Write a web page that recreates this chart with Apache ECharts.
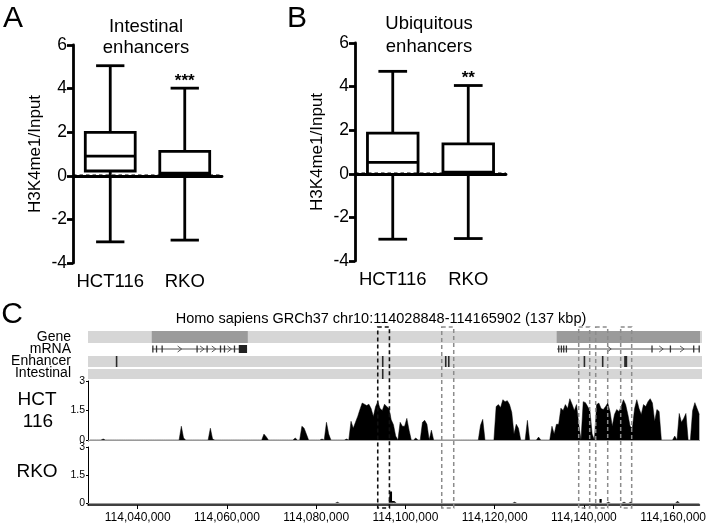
<!DOCTYPE html>
<html><head><meta charset="utf-8">
<script src="https://cdn.jsdelivr.net/npm/echarts@6/dist/echarts.min.js"></script>
<style>html,body{margin:0;padding:0;background:#fff}#c{width:709px;height:524px}</style>
</head><body><div id="c"></div>
<script>
// ---------- Panels A & B : box plots ----------
const boxCategories = ['HCT116', 'RKO'];
// [lower whisker, Q1, median, Q3, upper whisker]
const intestinalBoxes = [[-3.03, 0.22, 0.90, 1.99, 5.05], [-2.95, 0.08, 0.12, 1.12, 4.02]];
const ubiquitousBoxes = [[-3.00, -0.03, 0.52, 1.87, 4.70], [-2.97, 0.04, 0.08, 1.37, 4.05]];
const intestinalSig = ['', '***'];
const ubiquitousSig = ['', '**'];
const boxReferenceLevel = 0;
const boxYAxisName = 'H3K4me1/Input';
const panelTitles = ['Intestinal\nenhancers', 'Ubiquitous\nenhancers'];

// ---------- Panel C : genome browser ----------
const browserTitle = 'Homo sapiens GRCh37 chr10:114028848-114165902 (137 kbp)';
const regionStart = 114028848, regionEnd = 114165902;
const genomeTicks = [114040000, 114060000, 114080000, 114100000, 114120000, 114140000, 114160000];
const trackLabels = ['Gene', 'mRNA', 'Enhancer', 'Intestinal'];
const geneSpans = [[114043130, 114064630], [114133810, 114165902]];
const transcripts = [[114043200, 114064470], [114133900, 114165800]];
const exons = [[114043300, 114043450], [114044130, 114044260], [114045380, 114045520], [114053220, 114053340],
  [114055460, 114055580], [114058460, 114058580], [114059350, 114059480], [114061590, 114061720],
  [114134200, 114134330], [114134800, 114134930], [114135320, 114135450], [114135920, 114136050],
  [114155090, 114155220], [114159210, 114159340], [114164430, 114164560], [114165650, 114165800]];
const codingBlocks = [[114062612, 114064470]];
const enhancers = [[114035100, 114035400], [114094750, 114094950], [114108880, 114109040], [114109560, 114109720],
  [114139920, 114140120], [114144020, 114144200], [114148920, 114149600]];
const intestinalEnhancers = [[114094750, 114094950]];
const highlightRegions = [[114093734, 114096354]];
const otherRegions = [[114108064, 114110751], [114138738, 114141201], [114142544, 114145231], [114148142, 114150605]];
const signalTicks = [0, 1.5, 3];
const BIN_START = 114029000, BIN_SIZE = 500;
const hct116Signal = [
  0,0,0,0,0,0,0.05,0,0,0,
  0,0,0,0,0,0,0,0,0,0,
  0,0,0,0,0,0,0,0,0,0,
  0,0,0,0,0,0,0,0,0,0,
  0,0.7,0.1,0,0,0,0,0,0,0,
  0,0,0,0,0.6,0.05,0,0,0,0,
  0,0,0,0,0,0,0,0,0,0,
  0,0,0,0,0,0,0,0,0.3,0.17,
  0,0,0,0,0,0,0,0,0,0,
  0,0,0.1,0,0,0.7,0.6,0.3,0,0,
  0,0,0,0,0.05,0,0.9,0.3,0,0,
  0,0,0,0,0,0.05,0,0.95,0.6,0.9,
  1.2,1.55,1.88,1.82,1.75,1.82,1.6,1.2,1.7,1.95,
  1.6,1.5,1.82,1.7,1.6,1.03,0.78,0.2,0,0.9,
  0.7,0.7,1.1,0.5,0,0,0.1,0,0,0.9,
  1.0,0.8,0,0.5,0,0,0,0,0,0,
  0,0,0,0,0,0,0,0,0,0,
  0,0,0,0,0,0.75,1.05,0,0,0,
  0,0,1.7,1.8,1.65,2.05,1.95,2.0,1.8,1.4,
  0.3,0.8,0.6,0,0,0,1.0,0,0,0,
  0,0.15,0,0,0,0,0,0.7,0.3,0.8,
  0.8,1.62,1.5,1.8,1.6,2.1,1.82,1.5,1.8,0.8,
  0,1.95,1.9,1.7,1.5,0.3,0,1.8,1.88,1.6,
  1.55,1.7,1.88,1.45,0.7,1.3,1.55,1.45,1.7,2.05,
  1.8,1.3,0.7,0.6,1.6,2.05,1.6,1.3,1.8,1.7,
  1.95,2.1,1.88,0.95,1.55,1.45,0,0,0,0,
  0,0,0.2,0,1.35,0.9,1.1,1.35,0,0,
  1.5,1.9,1.6,1.3
];
// RKO: [bin index, value] for the few non-zero bins
const rkoPeaks = [[111, 0.05], [135, 0.6], [136, 0.1], [190, 0.05], [229, 0.2], [232, 0.05], [239, 0.05], [242, 0.05], [263, 0.1]];

// ---------- build ----------
const FONT = '"Liberation Sans", Arial, Helvetica, sans-serif';
const binPos = i => BIN_START + i * BIN_SIZE + BIN_SIZE / 2;
const hctData = hct116Signal.map((v, i) => [binPos(i), v]);
const rkoVals = hct116Signal.map(() => 0);
rkoPeaks.forEach(([i, v]) => { rkoVals[i] = v; });
const rkoData = rkoVals.map((v, i) => [binPos(i), v]);

function boxRenderer(sigs) {
  return function (params, api) {
    const cat = api.value(0);
    const p = k => api.coord([cat, api.value(k)]);
    const lo = p(1), q1 = p(2), md = p(3), q3 = p(4), hi = p(5);
    const cx = lo[0];
    const band = api.size([1, 0])[0];
    const bw = band * 0.67, cw = band * 0.38;
    const st = { stroke: '#000', lineWidth: 2.8, fill: null };
    return {
      type: 'group',
      children: [
        { type: 'line', shape: { x1: cx, y1: hi[1], x2: cx, y2: q3[1] }, style: st },
        { type: 'line', shape: { x1: cx, y1: q1[1], x2: cx, y2: lo[1] }, style: st },
        { type: 'line', shape: { x1: cx - cw / 2, y1: hi[1], x2: cx + cw / 2, y2: hi[1] }, style: st },
        { type: 'line', shape: { x1: cx - cw / 2, y1: lo[1], x2: cx + cw / 2, y2: lo[1] }, style: st },
        { type: 'rect', shape: { x: cx - bw / 2, y: q3[1], width: bw, height: q1[1] - q3[1] },
          style: { stroke: '#000', lineWidth: 2.8, fill: '#fff' } },
        { type: 'line', shape: { x1: cx - bw / 2, y1: md[1], x2: cx + bw / 2, y2: md[1] }, style: st },
        { type: 'text', x: cx, y: hi[1] - 7,
          style: { text: sigs[params.dataIndex], font: 'bold 17px ' + FONT, fill: '#000',
                   align: 'center', verticalAlign: 'middle', textAlign: 'center', textVerticalAlign: 'middle' } }
      ]
    };
  };
}
function refLineRenderer(params, api) {
  const cs = params.coordSys;
  const y = api.coord([0, api.value(0)])[1];
  return { type: 'line', shape: { x1: cs.x, y1: y, x2: cs.x + cs.width, y2: y },
    style: { stroke: '#000', lineWidth: 2.6, lineDash: [3.5, 3], fill: null } };
}

const ROW = { gene: [2, 14], mrna: [20, 20], enh: [27, 38], intes: [40, 50] };
function spanRenderer(rowKey, fill, minW) {
  return function (params, api) {
    const a = api.coord([api.value(0), ROW[rowKey][0]]);
    const b = api.coord([api.value(1), ROW[rowKey][1]]);
    let x = a[0], w = b[0] - a[0];
    if (w < minW) { x = (a[0] + b[0]) / 2 - minW / 2; w = minW; }
    return { type: 'rect', shape: { x: x, y: a[1], width: w, height: b[1] - a[1] }, style: { fill: fill } };
  };
}
function backgroundRenderer(params, api) {
  const kids = ['gene', 'enh', 'intes'].map(k => {
    const a = api.coord([api.value(0), ROW[k][0]]);
    const b = api.coord([api.value(1), ROW[k][1]]);
    return { type: 'rect', shape: { x: a[0], y: a[1], width: b[0] - a[0] + 2, height: b[1] - a[1] }, style: { fill: '#d6d6d6' } };
  });
  return { type: 'group', children: kids };
}
function transcriptRenderer(params, api) {
  const s = api.value(0), e = api.value(1);
  const a = api.coord([s, ROW.mrna[0]]), b = api.coord([e, ROW.mrna[0]]);
  const y = a[1];
  const kids = [{ type: 'line', shape: { x1: a[0], y1: y, x2: b[0], y2: y }, style: { stroke: '#555', lineWidth: 1 } }];
  const ex = exons.concat(codingBlocks).filter(r => r[0] >= s - 1 && r[1] <= e + 1).sort((p, q) => p[0] - q[0]);
  for (let i = 0; i + 1 < ex.length; i++) {
    const g0 = ex[i][1], g1 = ex[i + 1][0];
    if (g1 - g0 > 1500) {
      const mx = api.coord([(g0 + g1) / 2, 0])[0];
      kids.push({ type: 'polyline', shape: { points: [[mx - 2, y - 3], [mx + 2, y], [mx - 2, y + 3]] },
        style: { stroke: '#555', lineWidth: 1, fill: null } });
    }
  }
  return { type: 'group', children: kids };
}
function exonRenderer(h, fill) {
  return function (params, api) {
    const a = api.coord([api.value(0), ROW.mrna[0]]);
    const b = api.coord([api.value(1), ROW.mrna[0]]);
    let x = a[0], w = b[0] - a[0];
    if (w < 1.3) { x = (a[0] + b[0]) / 2 - 0.65; w = 1.3; }
    return { type: 'rect', shape: { x: x, y: a[1] - h / 2, width: w, height: h }, style: { fill: fill } };
  };
}
function regionRenderer(color, width) {
  return function (params, api) {
    const a = api.coord([api.value(0), 1]);
    const b = api.coord([api.value(1), 0]);
    return { type: 'rect', shape: { x: a[0], y: a[1], width: b[0] - a[0], height: b[1] - a[1] },
      style: { fill: null, stroke: color, lineWidth: width, lineDash: [4, 3] } };
  };
}

function catAxis(gi) {
  return { type: 'category', gridIndex: gi, data: boxCategories, boundaryGap: true,
    axisLine: { lineStyle: { color: '#000', width: 2.8 } },
    axisTick: { alignWithLabel: true, length: 6, lineStyle: { width: 2.8, color: '#000' } },
    axisLabel: { interval: 0, fontSize: 18.5, color: '#000', fontFamily: FONT, margin: 9 } };
}
function boxYAxis(gi) {
  return { type: 'value', gridIndex: gi, min: -4, max: 6, interval: 2,
    name: boxYAxisName, nameLocation: 'middle', nameGap: 29, nameRotate: 90,
    nameTextStyle: { fontSize: 17, color: '#000', fontFamily: FONT },
    axisLine: { show: true, lineStyle: { color: '#000', width: 2.8 } },
    axisTick: { show: true, length: 6, lineStyle: { width: 2.8, color: '#000' } },
    axisLabel: { margin: 6, fontSize: 17.5, color: '#000', fontFamily: FONT }, splitLine: { show: false } };
}
const hiddenX = gi => ({ type: 'value', gridIndex: gi, min: regionStart, max: regionEnd, show: false, splitLine: { show: false } });
function signalY(gi, min) {
  return { type: 'value', gridIndex: gi, min: min, max: 3, splitLine: { show: false },
    axisLine: { show: true, lineStyle: { color: '#000', width: 1 } },
    axisTick: { show: true, length: 2, customValues: signalTicks, lineStyle: { color: '#000' } },
    axisLabel: { customValues: signalTicks, fontSize: 10.5, color: '#000', fontFamily: FONT, margin: 3 } };
}

const zeroLine = { silent: true, symbol: 'none', label: { show: false }, animation: false,
  lineStyle: { color: '#9a9a9a', width: 1, type: 'solid' }, data: [{ yAxis: 0 }] };

const txt = (x, y, text, font, align, extra) => ({ type: 'text', x: x, y: y, silent: true,
  style: Object.assign({ text: text, font: font, fill: '#000', align: align, textAlign: align,
    verticalAlign: 'middle', textVerticalAlign: 'middle' }, extra || {}) });

const option = {
  animation: false,
  backgroundColor: '#fff',
  grid: [
    { left: 73, top: 45, width: 149, height: 218 },
    { left: 355, top: 43, width: 151, height: 218 },
    { left: 88, top: 329, width: 612, height: 51 },
    { left: 88, top: 381, width: 612, height: 60 },
    { left: 88, top: 447, width: 612, height: 58 },
    { left: 88, top: 327, width: 612, height: 181 }
  ],
  xAxis: [
    catAxis(0), catAxis(1), hiddenX(2), hiddenX(3),
    { type: 'value', gridIndex: 4, min: regionStart, max: regionEnd, position: 'bottom', splitLine: { show: false },
      axisLine: { show: true, onZero: false, lineStyle: { color: '#000', width: 1.5 } },
      axisTick: { show: true, customValues: genomeTicks, length: 4, lineStyle: { color: '#000', width: 1 } },
      axisLabel: { customValues: genomeTicks, fontSize: 12, color: '#000', fontFamily: FONT, margin: 7,
        formatter: v => Number(v).toLocaleString('en-US') } },
    hiddenX(5)
  ],
  yAxis: [
    boxYAxis(0), boxYAxis(1),
    { type: 'value', gridIndex: 2, min: 0, max: 51, inverse: true, show: false, splitLine: { show: false } },
    signalY(3, -0.05), signalY(4, -0.12),
    { type: 'value', gridIndex: 5, min: 0, max: 1, show: false, splitLine: { show: false } }
  ],
  series: [
    { type: 'custom', id: 'boxA', xAxisIndex: 0, yAxisIndex: 0, clip: false, renderItem: boxRenderer(intestinalSig),
      encode: { x: 0, y: [1, 2, 3, 4, 5] }, data: intestinalBoxes.map((b, i) => [i].concat(b)), z: 2 },
    { type: 'custom', xAxisIndex: 0, yAxisIndex: 0, clip: false, renderItem: refLineRenderer,
      encode: { y: 0 }, data: [[boxReferenceLevel]], z: 5 },
    { type: 'custom', id: 'boxB', xAxisIndex: 1, yAxisIndex: 1, clip: false, renderItem: boxRenderer(ubiquitousSig),
      encode: { x: 0, y: [1, 2, 3, 4, 5] }, data: ubiquitousBoxes.map((b, i) => [i].concat(b)), z: 2 },
    { type: 'custom', xAxisIndex: 1, yAxisIndex: 1, clip: false, renderItem: refLineRenderer,
      encode: { y: 0 }, data: [[boxReferenceLevel]], z: 5 },

    { type: 'custom', xAxisIndex: 2, yAxisIndex: 2, renderItem: backgroundRenderer, clip: false, data: [[regionStart, regionEnd]], z: 1 },
    { type: 'custom', xAxisIndex: 2, yAxisIndex: 2, renderItem: spanRenderer('gene', '#9b9b9b', 1), clip: false, data: geneSpans, z: 2 },
    { type: 'custom', xAxisIndex: 2, yAxisIndex: 2, renderItem: transcriptRenderer, data: transcripts, z: 2 },
    { type: 'custom', xAxisIndex: 2, yAxisIndex: 2, renderItem: exonRenderer(7, '#333'), data: exons, z: 3 },
    { type: 'custom', xAxisIndex: 2, yAxisIndex: 2, renderItem: exonRenderer(8, '#222'), data: codingBlocks, z: 3 },
    { type: 'custom', xAxisIndex: 2, yAxisIndex: 2, renderItem: spanRenderer('enh', '#2a2a2a', 1.6), data: enhancers, z: 3 },
    { type: 'custom', xAxisIndex: 2, yAxisIndex: 2, renderItem: spanRenderer('intes', '#2a2a2a', 1.6), data: intestinalEnhancers, z: 3 },

    { type: 'line', xAxisIndex: 3, yAxisIndex: 3, data: hctData, showSymbol: false, symbol: 'none',
      lineStyle: { width: 0.5, color: '#000' }, areaStyle: { color: '#000', opacity: 1 }, markLine: zeroLine, z: 2 },
    { type: 'line', xAxisIndex: 4, yAxisIndex: 4, data: rkoData, showSymbol: false, symbol: 'none', step: 'middle',
      lineStyle: { width: 0, color: '#000', opacity: 0 }, areaStyle: { color: '#000', opacity: 1 }, markLine: zeroLine, z: 2 },

    { type: 'custom', xAxisIndex: 5, yAxisIndex: 5, clip: false, renderItem: regionRenderer('#8c8c8c', 1.5), data: otherRegions, z: 10 },
    { type: 'custom', xAxisIndex: 5, yAxisIndex: 5, clip: false, renderItem: regionRenderer('#111', 1.6), data: highlightRegions, z: 11 }
  ],
  graphic: [
    txt(13, 19, 'A', '30px ' + FONT, 'center'),
    txt(297, 19, 'B', '30px ' + FONT, 'center'),
    txt(12, 315, 'C', '30px ' + FONT, 'center'),
    txt(146, 37.5, panelTitles[0], '18.5px ' + FONT, 'center', { lineHeight: 21.6 }),
    txt(429, 35.5, panelTitles[1], '18.5px ' + FONT, 'center', { lineHeight: 22.6 }),
    txt(381, 319, browserTitle, '14.5px ' + FONT, 'center'),
    txt(71, 336.7, trackLabels[0], '14px ' + FONT, 'right'),
    txt(71, 349.3, trackLabels[1], '14px ' + FONT, 'right'),
    txt(71, 361, trackLabels[2], '14px ' + FONT, 'right'),
    txt(71, 373.3, trackLabels[3], '14px ' + FONT, 'right'),
    txt(37, 400, 'HCT', '19px ' + FONT, 'center'),
    txt(38, 422, '116', '19px ' + FONT, 'center'),
    txt(37, 472, 'RKO', '19px ' + FONT, 'center')
  ]
};
const chart = echarts.init(document.getElementById('c'));
chart.setOption(option);
</script>
</body></html>
